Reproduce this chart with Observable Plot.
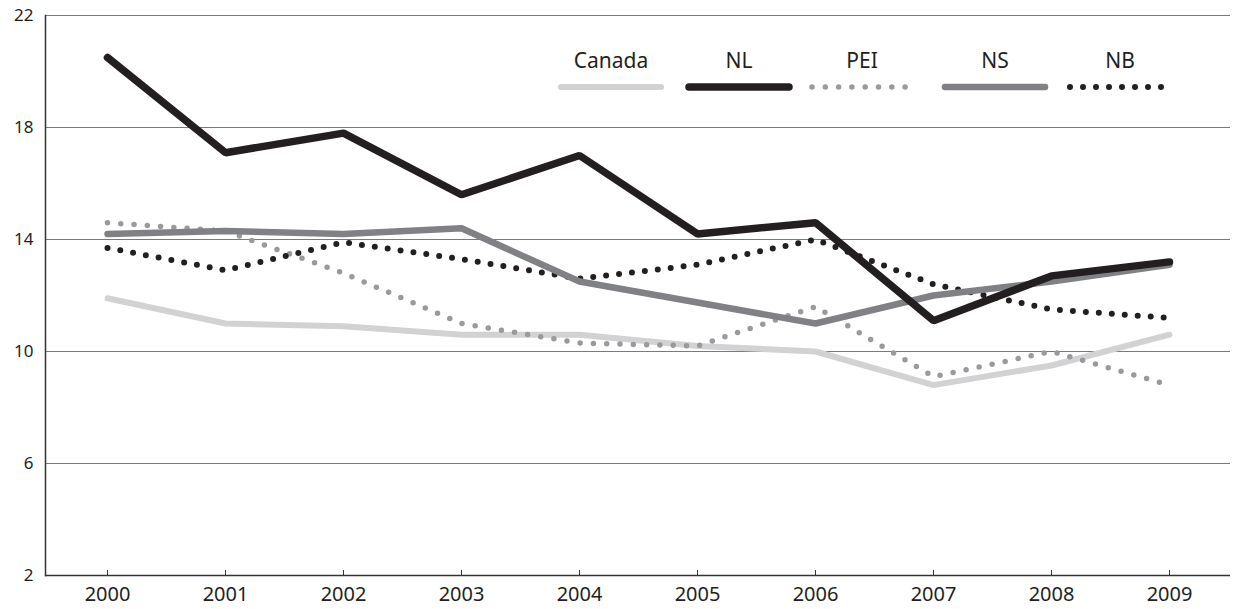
<!DOCTYPE html>
<html>
<head>
<meta charset="utf-8">
<script src="https://cdn.jsdelivr.net/npm/d3@7"></script>
<script src="https://cdn.jsdelivr.net/npm/@observablehq/plot@0.6"></script>
<style>
  html, body { margin: 0; padding: 0; background: #fff; }
  #wrap { position: relative; width: 1233px; height: 609px; font-family: "Noto Sans", sans-serif; }
  #legend { position: absolute; left: 0; top: 0; width: 1233px; height: 100px; pointer-events: none; }
  .item { position: absolute; top: 46px; width: 108px; text-align: center; font-size: 21px; line-height: 28px; color: #231f20; }
  .item svg { display: block; margin-top: 5px; }
</style>
</head>
<body>
<div id="wrap"><div id="chart"></div><div id="legend"></div></div>
<script>
const years = [2000, 2001, 2002, 2003, 2004, 2005, 2006, 2007, 2008, 2009];
const canada = [11.9, 11.0, 10.9, 10.6, 10.6, 10.2, 10.0, 8.8, 9.5, 10.6];
const nl     = [20.5, 17.1, 17.8, 15.6, 17.0, 14.2, 14.6, 11.1, 12.7, 13.2];
const pei    = [14.6, 14.3, 12.8, 11.0, 10.3, 10.2, 11.6, 9.1, 10.0, 8.8];
const ns     = [14.2, 14.3, 14.2, 14.4, 12.5, 11.75, 11.0, 12.0, 12.5, 13.1];
const nb     = [13.7, 12.9, 13.9, 13.3, 12.6, 13.1, 14.0, 12.4, 11.5, 11.2];
const yTicks = [2, 6, 10, 14, 18, 22];
const gridTicks = [6, 10, 14, 18, 22];

const seriesDefs = [
  {name: "Canada", values: canada, stroke: "#d1d2d4", width: 6, dash: null},
  {name: "PEI", values: pei, stroke: "#9a9a9c", width: 5.5, dash: "0 13.3"},
  {name: "NB", values: nb, stroke: "#231f20", width: 6, dash: "0 13"},
  {name: "NS", values: ns, stroke: "#808184", width: 6.5, dash: null},
  {name: "NL", values: nl, stroke: "#231f20", width: 7.5, dash: null}
];
const legendOrder = ["Canada", "NL", "PEI", "NS", "NB"];
const legendLeft = [557, 685, 808, 941, 1066];

const lineMarks = seriesDefs.map(s => Plot.line(
  years.map((y, i) => ({year: y, value: s.values[i]})),
  {x: "year", y: "value", stroke: s.stroke, strokeWidth: s.width,
   strokeDasharray: s.dash, strokeLinecap: "round", strokeLinejoin: "miter"}
));

const chart = Plot.plot({
  width: 1233,
  height: 609,
  marginLeft: 45,
  marginRight: 3,
  marginTop: 15,
  marginBottom: 34,
  style: {fontFamily: "'Noto Sans', sans-serif", fontSize: "18px", color: "#231f20", background: "#fff"},
  x: {type: "point", domain: years, padding: 0.5},
  y: {domain: [2, 22]},
  marks: [
    Plot.ruleY(gridTicks, {stroke: "#7a7a7a", strokeWidth: 1.2}),
    Plot.ruleY([2], {stroke: "#333", strokeWidth: 1.5}),
    Plot.frame({anchor: "left", stroke: "#333", strokeWidth: 1.5}),
    Plot.axisY({ticks: yTicks, tickSize: 0, tickPadding: 12, label: null, fontSize: 17}),
    Plot.axisX({ticks: years, tickSize: 0, tickPadding: 11, label: null, tickFormat: d => String(d), fontSize: 20}),
    Plot.axisX({ticks: years, tickSize: 5, text: null, label: null, dy: -5, stroke: "#333"}),
    ...lineMarks
  ]
});
document.getElementById("chart").appendChild(chart);

const legend = document.getElementById("legend");
legendOrder.forEach((name, i) => {
  const s = seriesDefs.find(d => d.name === name);
  const div = document.createElement("div");
  div.className = "item";
  div.style.left = legendLeft[i] + "px";
  const label = document.createElement("div");
  label.textContent = name;
  div.appendChild(label);
  const svg = d3.create("svg").attr("width", 108).attr("height", 16);
  svg.append("line").attr("x1", 4).attr("x2", 104).attr("y1", 8).attr("y2", 8)
    .attr("stroke", s.stroke).attr("stroke-width", s.width)
    .attr("stroke-linecap", "round")
    .attr("stroke-dasharray", s.dash);
  div.appendChild(svg.node());
  legend.appendChild(div);
});
</script>
</body>
</html>
